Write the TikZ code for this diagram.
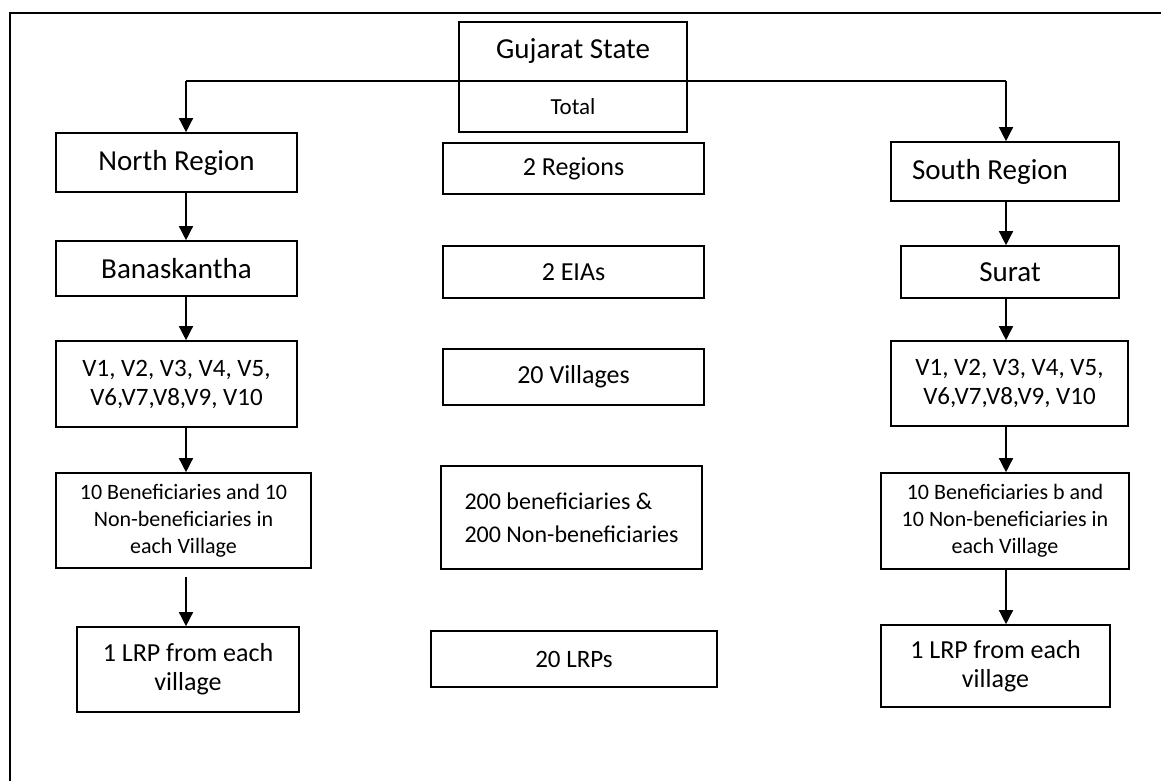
\documentclass[tikz,border=0pt]{standalone}
\usepackage{fontspec}
\setmainfont{Carlito}
\usetikzlibrary{arrows.meta}

\begin{document}
\begin{tikzpicture}
    [
      x=1pt,y=-1pt,
      box/.style={draw=black,line width=1.6pt,rectangle,inner sep=0pt,align=center},
      bigtext/.style={font=\fontsize{29}{35}\selectfont},
      midtext/.style={font=\fontsize{25}{29}\selectfont},
      smalltext/.style={font=\fontsize{22}{27}\selectfont},
      link/.style={line width=1.4pt,draw=black},
      transition/.style={-{Triangle[length=14pt,width=14pt]},line width=1.4pt,draw=black}
    ]
    \useasboundingbox (0,0) rectangle (1161,781);
    \draw [line width=1.4pt] (10,781) -- (10,13) -- (1161,13);

    \node at (573,51.5) [box,bigtext,minimum width=228,minimum height=59] (gujarat) {Gujarat State};
    \node at (573,106.5) [box,font=\fontsize{23}{28}\selectfont,minimum width=228,minimum height=51] (total) {Total};

    \node at (176.5,162.5) [box,bigtext,minimum width=241,minimum height=59] (north) {North Region};
    \node at (573.5,168.5) [box,font=\fontsize{26}{31}\selectfont,minimum width=261,minimum height=51] (regions) {2 Regions};
    \node at (1005,171.5) [box,bigtext,minimum width=228,minimum height=59] (south) {South Region\hspace{30pt}};

    \node at (176.5,268.5) [box,bigtext,minimum width=241,minimum height=55] (bana) {Banaskantha};
    \node at (573.5,272) [box,font=\fontsize{26}{31}\selectfont,minimum width=261,minimum height=52] (eias) {2 EIAs};
    \node at (1010,272) [box,bigtext,minimum width=218,minimum height=52] (surat) {Surat};

    \node at (176.5,384) [box,midtext,minimum width=241,minimum height=86] (villL) {V1, V2, V3, V4, V5,\\V6,V7,V8,V9, V10};
    \node at (573.5,377) [box,font=\fontsize{26}{31}\selectfont,minimum width=261,minimum height=56] (villages) {20 Villages};
    \node at (1009.5,383.5) [box,midtext,minimum width=237,minimum height=85] (villR) {V1, V2, V3, V4, V5,\\V6,V7,V8,V9, V10};

    \node at (183.5,520.5) [box,smalltext,minimum width=255,minimum height=95] (benL) {10 Beneficiaries and 10\\Non-beneficiaries in\\each Village};
    \node at (571.5,517.5) [box,font=\fontsize{24}{33}\selectfont,align=left,minimum width=261,minimum height=103] (bentotal) {200 beneficiaries \&\\200 Non-beneficiaries};
    \node at (1005,521) [box,smalltext,minimum width=248,minimum height=96] (benR) {10 Beneficiaries b and\\10 Non-beneficiaries in\\each Village};

    \node at (188,669.5) [box,font=\fontsize{26}{29}\selectfont,minimum width=222,minimum height=85] (lrpL) {1 LRP from each\\village};
    \node at (574,659) [box,midtext,minimum width=286,minimum height=56] (lrps) {20 LRPs};
    \node at (995.5,666) [box,font=\fontsize{26}{29}\selectfont,minimum width=229,minimum height=82] (lrpR) {1 LRP from each\\village};

    \coordinate (spineL) at (186,81);
    \coordinate (spineR) at (1006,81);

    \draw [link] (spineL) -- (spineR);
    \draw [transition] (spineL) -- (spineL |- north.north);
    \draw [transition] (spineR) -- (spineR |- south.north);

    \draw [transition] (north.south -| spineL) -- (bana.north -| spineL);
    \draw [transition] (bana.south -| spineL) -- (villL.north -| spineL);
    \draw [transition] (villL.south -| spineL) -- (benL.north -| spineL);
    \draw [transition,shorten <=8pt] (benL.south -| spineL) -- (lrpL.north -| spineL);

    \draw [transition] (south.south -| spineR) -- (surat.north -| spineR);
    \draw [transition] (surat.south -| spineR) -- (villR.north -| spineR);
    \draw [transition] (villR.south -| spineR) -- (benR.north -| spineR);
    \draw [transition] (benR.south -| spineR) -- (lrpR.north -| spineR);
  \end{tikzpicture}
\end{document}
